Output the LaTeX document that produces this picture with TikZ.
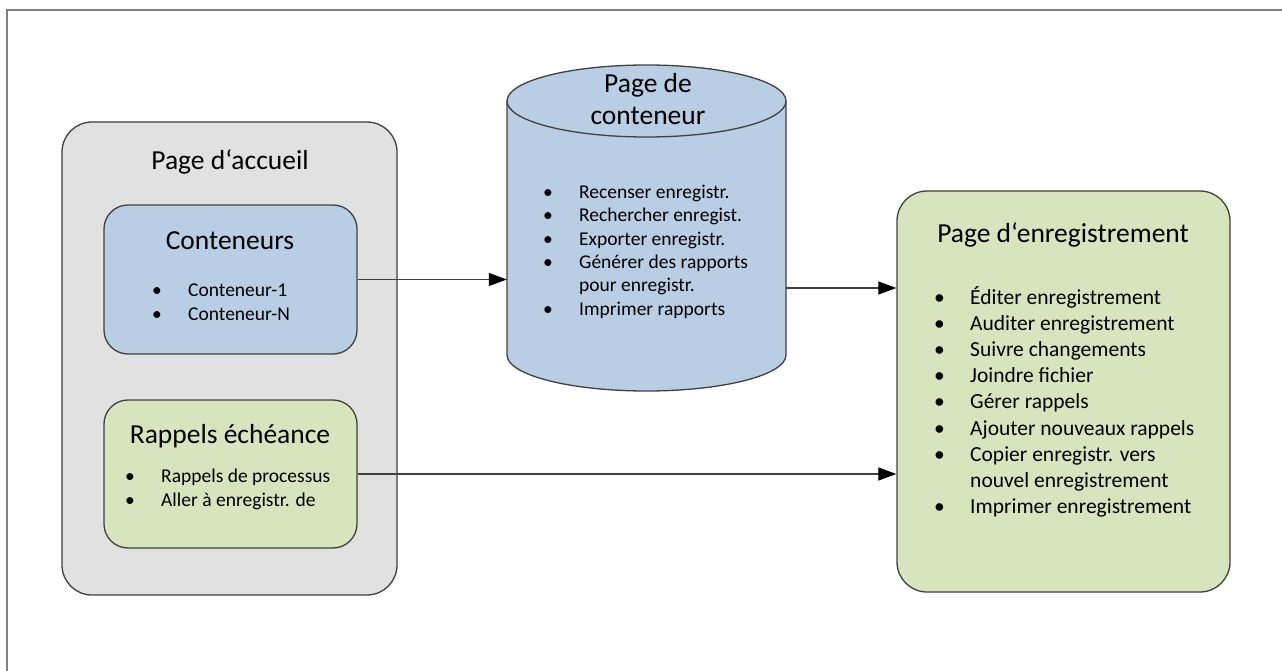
\documentclass[tikz,border=0pt]{standalone}
\usepackage{fontspec}
\setmainfont{Carlito}
\usetikzlibrary{arrows.meta}
\definecolor{boxblue}{HTML}{B9CDE5}
\definecolor{boxgreen}{HTML}{D7E4BD}
\definecolor{boxgray}{HTML}{E1E1E1}
\newcommand{\bl}{\makebox[36pt][l]{\textbullet}}
\newcommand{\nobl}{\hspace*{36pt}}

\begin{document}
\begin{tikzpicture}[x=1pt,y=-1pt]
                        \tikzstyle{page}=[draw=black!75, line width=1.3pt, rounded corners=30pt, inner sep=0pt]
                        \tikzstyle{box}=[draw=black!75, line width=1.3pt, rounded corners=24pt, inner sep=0pt, minimum width=253pt]
                        \tikzstyle{title}=[anchor=base, inner sep=0pt, align=center, font=\fontsize{27.5}{32}\selectfont]
                        \tikzstyle{list}=[anchor=north west, inner sep=0pt, align=left, font=\fontsize{19.5}{23.3}\selectfont]
                        \tikzstyle{link}=[draw=black!75, line width=1.2pt, -{Triangle[length=18pt,width=13pt,color=black]}]
                        \useasboundingbox (0,0) rectangle (1282,671);
                        \draw[gray, line width=2pt] (7,671) -- (7,10) -- (1282,10);

                        % Page d'accueil
                        \node (accueil) [page, fill=boxgray, minimum width=335pt, minimum height=473pt] at (229.5,358.5) {};
                        \node (accueilT) [title] at (230,170) {Page d‘accueil};
                        \node (conteneurs) [box, fill=boxblue, minimum height=149pt] at (230.5,279.5) {};
                        \node (conteneursT) [title] at (230,249) {Conteneurs};
                        \node (conteneursL) [list] at (152,284) {\bl Conteneur-1\\ \bl Conteneur-N};
                        \node (rappels) [box, fill=boxgreen, minimum height=148pt] at (230.5,474) {};
                        \node (rappelsT) [title] at (230,443) {Rappels échéance};
                        \node (rappelsL) [list] at (125,469) {\bl Rappels de processus\\ \bl Aller à enregistr. de};

                        % Page de conteneur
                        \draw[fill=boxblue, draw=black!75, line width=1.3pt]
                            (507,101) -- (507,355) arc[start angle=180, end angle=0, x radius=139.5, y radius=36]
                            -- (786,101) arc[start angle=0, end angle=-180, x radius=139.5, y radius=36] -- cycle;
                        \draw[draw=black!75, line width=1.3pt] (786,101) arc[start angle=0, end angle=180, x radius=139.5, y radius=36];
                        \node (contpage) [inner sep=0pt, minimum width=279pt, minimum height=254pt] at (646.5,228) {};
                        \node (contpageT) [title] at (648,125) {Page de\\conteneur};
                        \node (contpageL) [list] at (543,185) {\bl Recenser enregistr.\\ \bl Rechercher enregist.\\ \bl Exporter enregistr.\\
                            \bl Générer des rapports\\ \nobl pour enregistr.\\ \bl Imprimer rapports};
                        \coordinate (contout) at (786,288);

                        % Page d'enregistrement
                        \node (enreg) [page, fill=boxgreen, minimum width=333pt, minimum height=401pt] at (1063.5,391.5) {};
                        \node (enregT) [title] at (1063,243) {Page d‘enregistrement};
                        \node (enregL) [list, font=\fontsize{21.5}{26.2}\selectfont] at (934,286) {\bl Éditer enregistrement\\ \bl Auditer enregistrement\\
                            \bl Suivre changements\\ \bl Joindre fichier\\ \bl Gérer rappels\\ \bl Ajouter nouveaux rappels\\
                            \bl Copier enregistr. vers\\ \nobl nouvel enregistrement\\ \bl Imprimer enregistrement};

                        \draw[link] (conteneurs.east) -- (conteneurs.east -| contpage.west);
                        \draw[link] (contout) -- (contout -| enreg.west);
                        \draw[link] (rappels.east) -- (rappels.east -| enreg.west);
\end{tikzpicture}
\end{document}
